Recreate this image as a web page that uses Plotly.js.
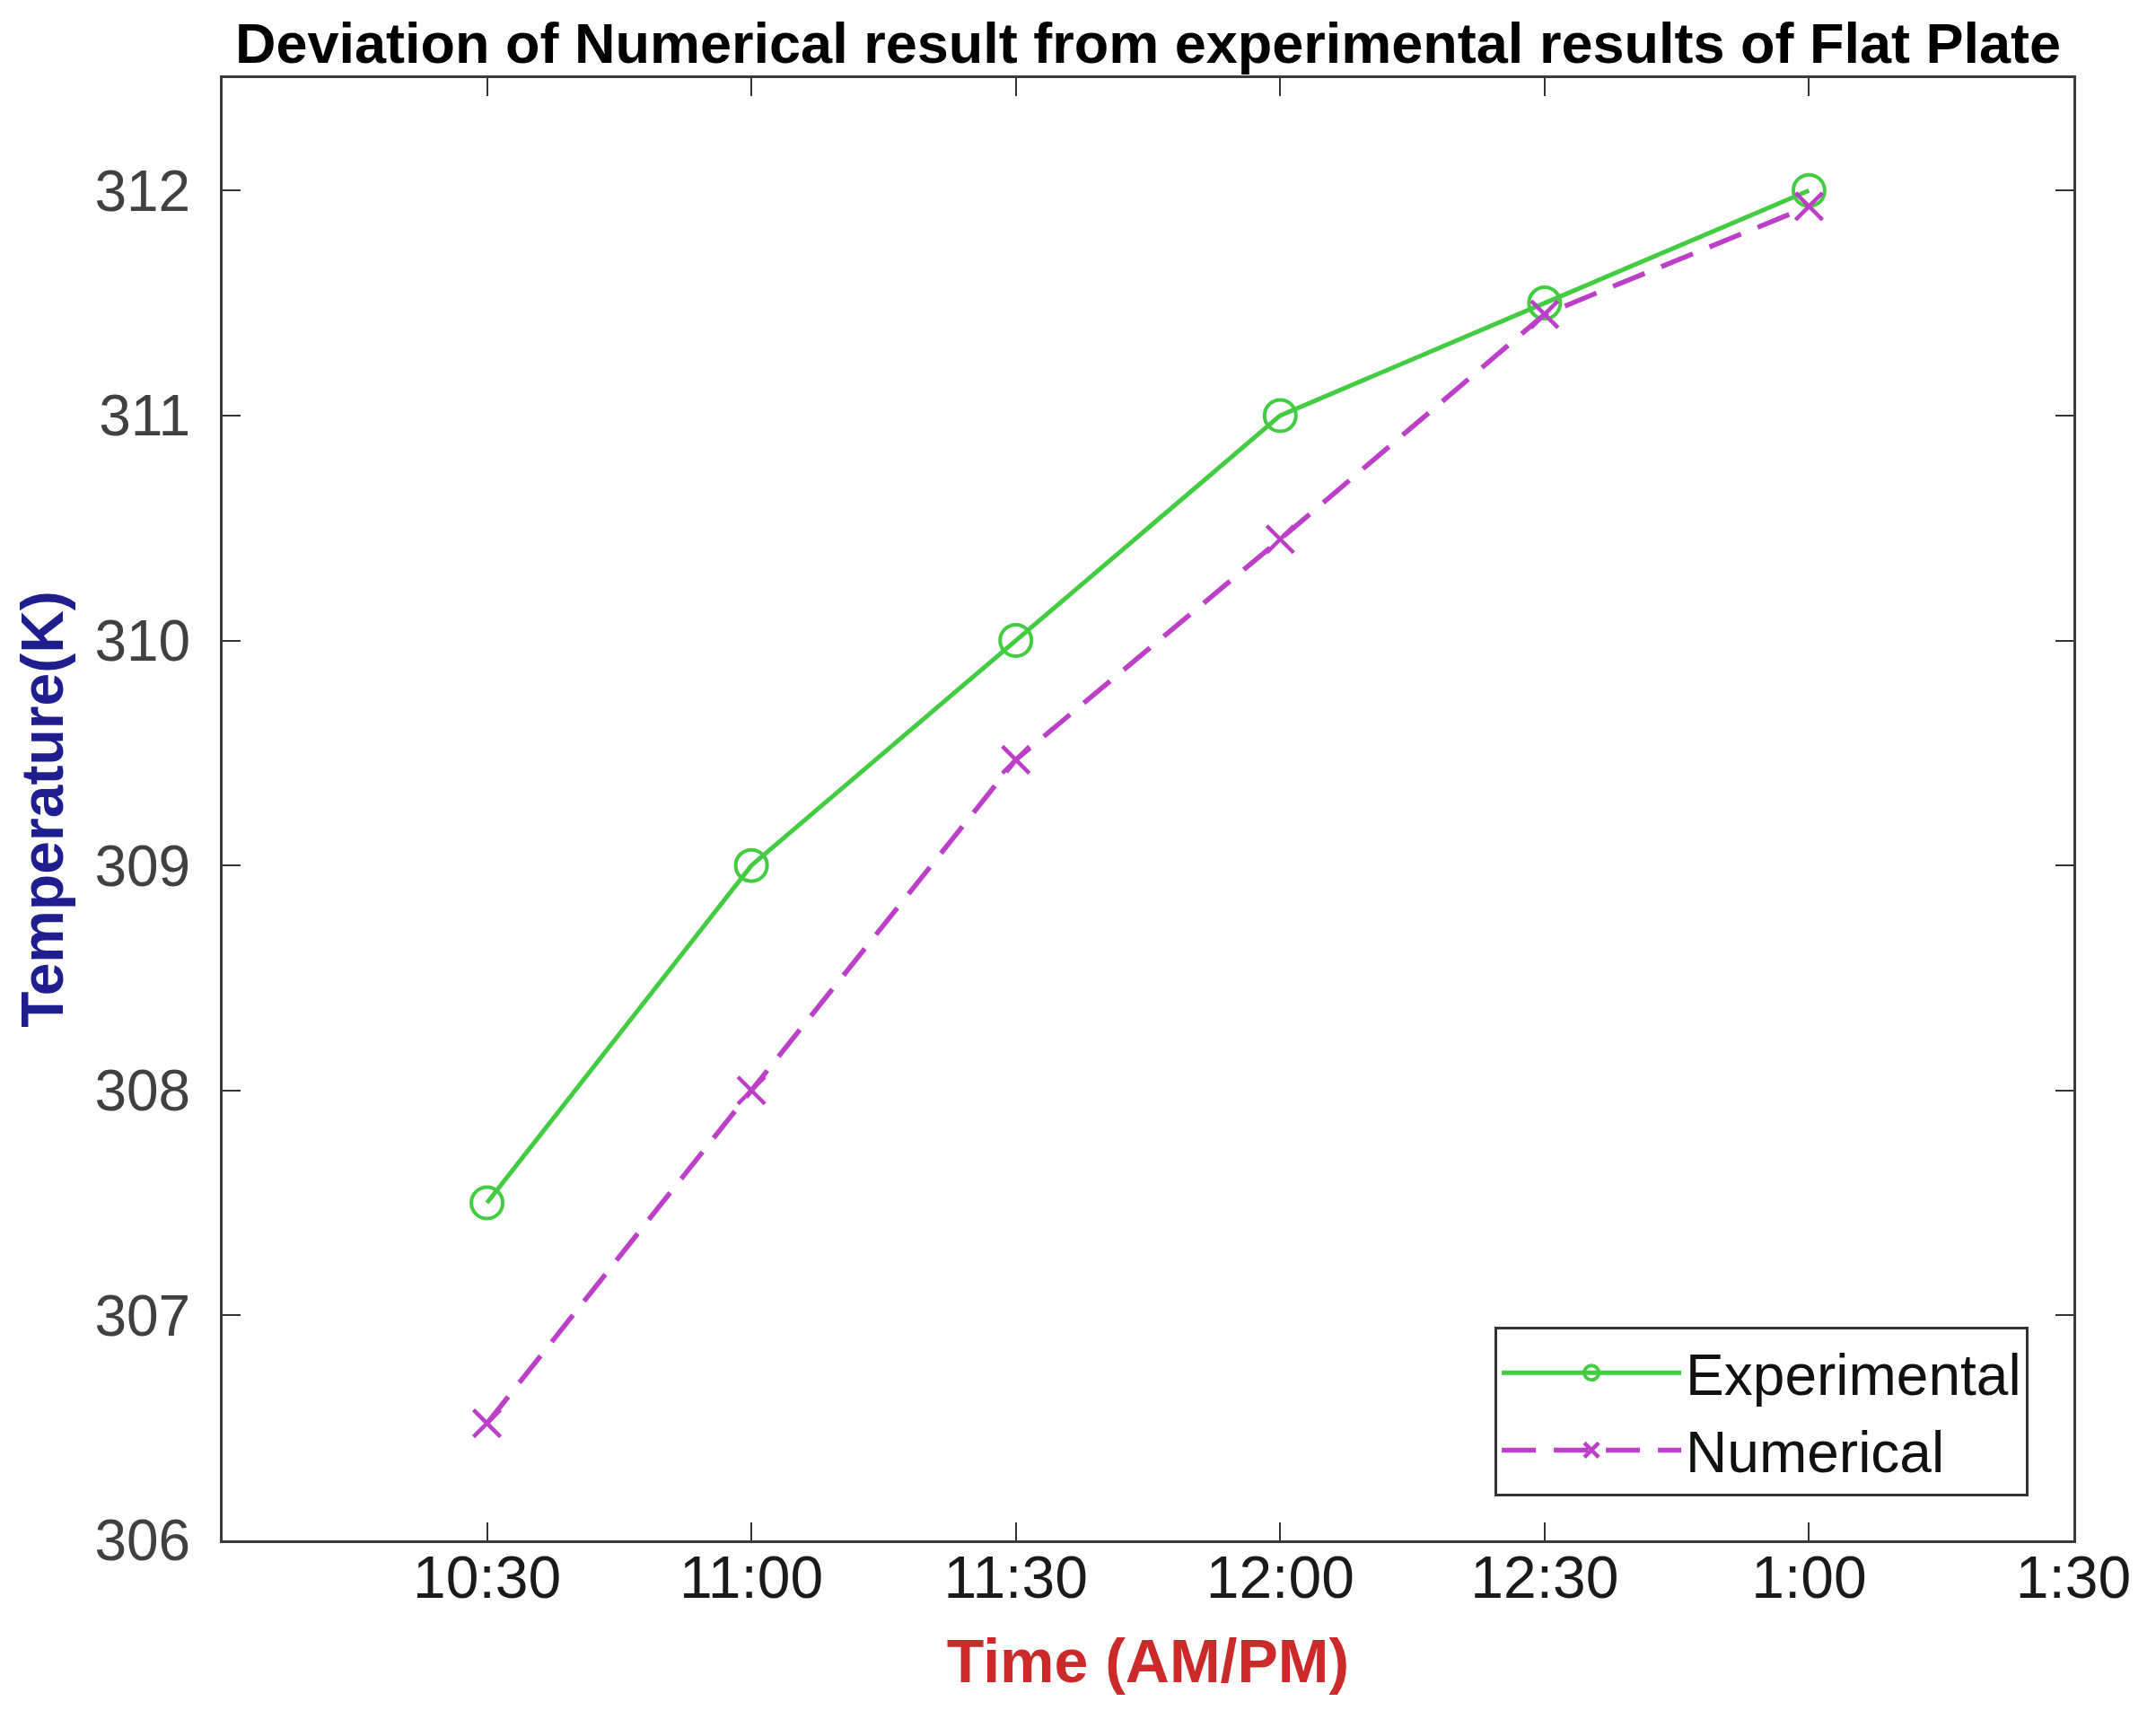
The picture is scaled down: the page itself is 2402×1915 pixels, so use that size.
<!DOCTYPE html>
<html>
<head>
<meta charset="utf-8">
<script src="https://cdn.plot.ly/plotly-3.0.1.min.js"></script>
<style>
  html, body { margin: 0; padding: 0; background: #ffffff; }
  #chart { width: 2402px; height: 1915px; }
</style>
</head>
<body>
<div id="chart"></div>
<script>
// Tick labels on the time axis (last one has no data)
var timeLabels = ["10:30", "11:00", "11:30", "12:00", "12:30", "1:00", "1:30"];
// Times at which the measurements were taken
var sampleTimes = ["10:30", "11:00", "11:30", "12:00", "12:30", "1:00"];
// Temperature (K)
var experimental = [307.5, 309.0, 310.0, 311.0, 311.5, 312.0];
var numerical    = [306.52, 308.0, 309.47, 310.45, 311.45, 311.93];
var yTicks = [306, 307, 308, 309, 310, 311, 312];

var traces = [
  {
    x: sampleTimes, y: experimental, name: "Experimental",
    type: "scatter", mode: "lines+markers",
    line: { color: "#42cc42", width: 5 },
    marker: { symbol: "circle-open", size: 35, color: "#42cc42", line: { width: 4, color: "#42cc42" } }
  },
  {
    x: sampleTimes, y: numerical, name: "Numerical",
    type: "scatter", mode: "lines+markers",
    line: { color: "#bc3fc8", width: 5.5, dash: "38px,20px" },
    marker: { symbol: "x-thin-open", size: 30, color: "#bc3fc8", line: { width: 4.5, color: "#bc3fc8" } }
  }
];

var axisCommon = {
  showline: true, linecolor: "#3a3a3a", linewidth: 3,
  mirror: "ticks", ticks: "inside", ticklen: 20, tickwidth: 2, tickcolor: "#333333",
  showgrid: false, zeroline: false
};

var layout = {
  width: 2402, height: 1915,
  paper_bgcolor: "#ffffff", plot_bgcolor: "#ffffff",
  margin: { l: 248, r: 92, t: 87, b: 199 },
  showlegend: true,
  title: {
    text: "Deviation of Numerical result from experimental results of Flat Plate",
    font: { family: "Liberation Sans, Arial, sans-serif", size: 63, color: "#000000", weight: "bold" },
    x: 0.5, xanchor: "center", xref: "paper",
    y: 1 - 48 / 1915, yanchor: "middle", yref: "container"
  },
  xaxis: Object.assign({}, axisCommon, {
    type: "category",
    categoryorder: "array", categoryarray: timeLabels,
    range: [-1, 6],
    tickmode: "array", tickvals: timeLabels, ticktext: timeLabels,
    tickfont: { family: "Liberation Sans, Arial, sans-serif", size: 66, color: "#1a1a1a" },
    ticklabelstandoff: -18,
    title: {
      text: "Time (AM/PM)",
      font: { family: "Liberation Sans, Arial, sans-serif", size: 68, color: "#cc2a2a", weight: "bold" },
      standoff: 34
    }
  }),
  yaxis: Object.assign({}, axisCommon, {
    range: [306, 312.5],
    tickmode: "array", tickvals: yTicks, ticktext: yTicks.map(String),
    tickfont: { family: "Liberation Sans, Arial, sans-serif", size: 64, color: "#404040" },
    ticklabelstandoff: 20,
    title: {
      text: "Temperature(K)",
      font: { family: "Liberation Sans, Arial, sans-serif", size: 66, color: "#1e1e8e", weight: "bold" },
      standoff: 14
    }
  }),
  legend: {
    x: 0.9758, xanchor: "right", y: 0.030, yanchor: "bottom",
    bgcolor: "#ffffff", bordercolor: "#333333", borderwidth: 3,
    font: { family: "Liberation Sans, Arial, sans-serif", size: 64, color: "#111111" },
    itemwidth: 200, tracegroupgap: 0
  }
};

Plotly.newPlot("chart", traces, layout, { staticPlot: true, displayModeBar: false });
</script>
</body>
</html>
